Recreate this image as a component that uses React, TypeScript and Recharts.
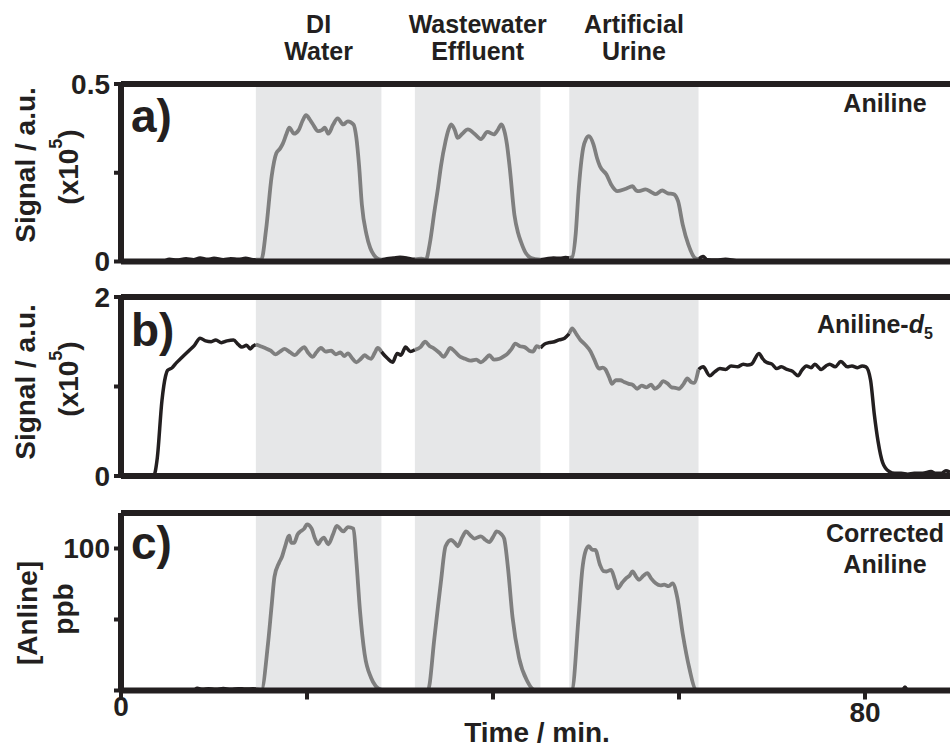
import { ComposedChart, Line, XAxis, YAxis, ReferenceArea, ReferenceLine } from 'recharts';

// sampling windows (min) and what was injected during each one
const windows = [
  [14.5, 28.0],
  [31.6, 45.1],
  [48.2, 62.1],
];
const sampleTitles = [
  ['DI', 'Water'],
  ['Wastewater', 'Effluent'],
  ['Artificial', 'Urine'],
];

const xTicks = [0, 20, 40, 60, 80];
const xLabels = ['0', '', '', '', '80'];

// a) Aniline signal (x10^5 a.u.)
const aTime = [
  0, 4.5, 5.2, 6, 7, 7.8, 8.5, 9.3, 10, 11, 11.8, 12.6, 13.4, 14.2, 14.5,
  15.1, 15.6, 16.2, 16.7, 17.1, 17.4, 17.8, 18.1, 18.6, 19.1, 19.5, 19.9, 20.3, 20.6, 21.2,
  21.6, 21.9, 22.3, 22.8, 23.3, 23.9, 24.4, 25.0, 25.3, 25.6, 25.9, 26.4, 26.8, 27.2, 27.6,
  28.0, 28.6, 29.3, 30, 30.7, 31.2, 31.6, 32.3, 32.8, 33.2, 33.7, 34.1, 34.4, 34.9, 35.2,
  35.5, 35.9, 36.2, 36.7, 37.3, 38.0, 38.7, 39.4, 40.1, 40.5, 40.9, 41.2, 41.5, 41.8, 42.3,
  42.7, 43.0, 43.5, 44.1, 45.1, 45.8, 46.5, 47.2, 47.8, 48.2, 48.5, 48.9, 49.2, 49.7, 50.0,
  50.3, 50.8, 51.2, 51.5, 52.2, 52.7, 53.4, 54.3, 55.0, 55.4, 55.7, 56.4, 57.0, 57.5, 58.2,
  58.8, 59.4, 59.9, 60.4, 61.0, 61.7, 62.1, 62.6, 63.0, 64, 65, 66, 67, 89.14,
];
const aSignal = [
  0, 0, 0.006, 0.004, 0.008, 0.005, 0.01, 0.006, 0.009, 0.005, 0.008, 0.006, 0.009, 0.005, 0.005,
  0.006, 0.09, 0.24, 0.305, 0.318, 0.332, 0.36, 0.377, 0.36, 0.37, 0.395, 0.412, 0.4, 0.388, 0.367,
  0.37, 0.377, 0.36, 0.385, 0.403, 0.386, 0.395, 0.386, 0.35, 0.27, 0.16, 0.076, 0.038, 0.018, 0.008,
  0.005, 0.008, 0.01, 0.012, 0.01, 0.007, 0.006, 0.008, 0.006, 0.05, 0.141, 0.21, 0.268, 0.339, 0.37,
  0.386, 0.37, 0.348, 0.36, 0.372, 0.36, 0.345, 0.365, 0.358, 0.37, 0.386, 0.37, 0.33, 0.264, 0.132,
  0.08, 0.056, 0.025, 0.01, 0.005, 0.008, 0.01, 0.009, 0.011, 0.01, 0.012, 0.08, 0.198, 0.32, 0.345,
  0.353, 0.33, 0.29, 0.268, 0.245, 0.217, 0.198, 0.205, 0.212, 0.2, 0.198, 0.203, 0.196, 0.19, 0.2,
  0.192, 0.19, 0.17, 0.104, 0.048, 0.01, 0.006, 0.014, 0.005, 0.004, 0.006, 0.003, 0, 0,
];
const aYTicks = [0, 0.25, 0.5];
const aYLabels = ['0', '', '0.5'];

// b) Aniline-d5 signal (x10^5 a.u.)
const bTime = [
  0, 3.5, 3.9, 4.4, 4.8, 5.0, 5.5, 6.0, 6.4, 6.9, 7.3, 7.9, 8.5, 9.1, 9.7,
  10.2, 10.8, 11.4, 12.1, 12.6, 13.0, 13.5, 13.9, 14.2, 14.5, 15.0, 15.5, 16.1, 16.6, 17.1,
  17.6, 18.2, 18.7, 19.2, 19.7, 20.1, 20.6, 21.0, 21.5, 22.0, 22.6, 23.1, 23.6, 24.0, 24.4,
  24.9, 25.3, 25.8, 26.2, 26.6, 26.9, 27.3, 27.6, 28.0, 28.4, 28.7, 29.2, 29.7, 30.1, 30.6,
  31.1, 31.6, 32.2, 32.7, 33.2, 33.6, 34.2, 34.7, 35.0, 35.4, 35.9, 36.5, 37.0, 37.6, 38.2,
  38.7, 39.2, 39.6, 40.1, 40.7, 41.2, 41.6, 42.0, 42.4, 42.9, 43.4, 43.9, 44.3, 44.7, 45.1,
  45.5, 46.0, 46.6, 47.1, 47.7, 48.2, 48.5, 49.0, 49.4, 49.9, 50.5, 50.9, 51.4, 51.8, 52.1,
  52.5, 52.8, 53.2, 53.7, 54.1, 54.6, 55.0, 55.5, 56.0, 56.5, 57.0, 57.4, 57.9, 58.3, 58.8,
  59.2, 59.6, 60.0, 60.5, 60.9, 61.3, 61.6, 62.1, 62.6, 63.3, 63.8, 64.4, 65.0, 65.6, 66.3,
  66.9, 67.4, 67.8, 68.6, 69.0, 69.4, 70.0, 70.5, 71.0, 71.6, 72.2, 72.8, 73.2, 73.7, 74.2,
  74.6, 75.3, 75.8, 76.2, 76.8, 77.4, 78.1, 78.6, 79.2, 79.7, 80.1, 80.6, 81.0, 81.4, 81.9,
  82.6, 83.2, 83.9, 84.6, 85.3, 86.2, 87.1, 87.6, 88.2, 88.7, 89.14,
];
const bSignal = [
  0, 0, 0.2, 0.84, 1.12, 1.18, 1.21, 1.27, 1.31, 1.36, 1.4, 1.46, 1.54, 1.51, 1.5,
  1.52, 1.49, 1.51, 1.52, 1.47, 1.44, 1.46, 1.42, 1.45, 1.47, 1.45, 1.43, 1.4, 1.36, 1.39,
  1.42, 1.38, 1.35, 1.4, 1.44, 1.38, 1.33, 1.38, 1.43, 1.39, 1.4, 1.36, 1.38, 1.34, 1.37,
  1.31, 1.27, 1.31, 1.35, 1.32, 1.31, 1.38, 1.43, 1.39, 1.34, 1.31, 1.27, 1.37, 1.35, 1.44,
  1.39, 1.41, 1.44, 1.5, 1.45, 1.43, 1.38, 1.33, 1.37, 1.43, 1.39, 1.33, 1.31, 1.29, 1.3,
  1.27, 1.31, 1.35, 1.3, 1.31, 1.34, 1.37, 1.42, 1.48, 1.45, 1.44, 1.4, 1.39, 1.45, 1.43,
  1.47, 1.49, 1.5, 1.52, 1.54, 1.59, 1.65, 1.58, 1.52, 1.47, 1.39, 1.3, 1.2, 1.21, 1.19,
  1.1, 1.03, 1.07, 1.07, 1.05, 1.03, 1.02, 0.975, 1.01, 0.99, 1.02, 0.975, 1.01, 1.06, 1.03,
  0.99, 0.985, 0.975, 1.03, 1.09, 1.05, 1.04, 1.19, 1.22, 1.12, 1.16, 1.2, 1.19, 1.23, 1.22,
  1.25, 1.24, 1.25, 1.37, 1.31, 1.27, 1.25, 1.2, 1.22, 1.19, 1.17, 1.12, 1.18, 1.23, 1.21,
  1.25, 1.19, 1.23, 1.25, 1.22, 1.28, 1.22, 1.23, 1.21, 1.23, 1.22, 1.07, 0.69, 0.39, 0.15,
  0.05, 0.03, 0.03, 0.02, 0.03, 0.03, 0.05, 0.03, 0.03, 0.06, 0.04,
];
const bYTicks = [0, 1, 2];
const bYLabels = ['0', '', '2'];

// c) corrected aniline (ppb)
const cTime = [
  0, 7.8, 8.2, 8.8, 9.4, 10.2, 11.0, 11.8, 12.6, 13.4, 14.2, 14.5, 15.1, 15.8, 16.2,
  16.5, 17.0, 17.3, 17.6, 18.1, 18.3, 18.6, 19.0, 19.3, 19.7, 20.0, 20.5, 20.8, 21.2, 21.5,
  21.8, 22.3, 22.8, 23.2, 23.9, 24.4, 25.0, 25.3, 25.7, 26.2, 26.9, 27.4, 28.0, 28.5, 31.6,
  33.0, 33.7, 34.1, 34.4, 34.9, 35.5, 35.9, 36.2, 36.7, 37.1, 37.6, 38.0, 38.7, 39.2, 39.6,
  40.0, 40.4, 40.9, 41.2, 41.6, 42.1, 42.8, 43.7, 44.4, 45.1, 48.2, 48.5, 49.2, 49.6, 49.9,
  50.3, 50.7, 51.0, 51.5, 51.9, 52.2, 52.7, 53.1, 53.4, 53.9, 54.3, 54.7, 55.0, 55.4, 55.7,
  56.2, 56.6, 57.0, 57.5, 58.0, 58.4, 58.9, 59.3, 59.8, 60.4, 61.1, 61.8, 62.1, 84.0, 84.3,
  84.6, 89.14,
];
const cConc = [
  0, 0, 1.5, 0.8, 1.2, 0.8, 1.4, 0.9, 1.3, 1.0, 1.2, 1.0, 0.5, 32.6, 60,
  80, 90, 94, 100.5, 109, 104, 104, 110, 112, 114, 117, 114, 108, 103, 106,
  107.6, 103, 110, 116, 112, 115, 114, 92, 56, 25.5, 8.8, 3, 0.5, 0, 0,
  0, 37, 60, 76.6, 101.6, 106, 104, 101.6, 108, 112, 109, 107, 108.6, 106, 104.5,
  108, 112, 110, 107, 87, 51.6, 23, 6.4, 0.5, 0, 0, 0.5, 51.6, 85, 97,
  101.6, 99, 99, 88.6, 84, 83.8, 85, 78, 72, 76, 79, 81, 83.8, 80, 78,
  81, 82.6, 79, 75.5, 74, 74.5, 73.5, 75.5, 66, 40, 16, 0.5, 0, 0, 2.5,
  0, 0,
];
const cYTicks = [0, 50, 100];
const cYLabels = ['', '', '100'];

const INK = '#231f20';
const GREY = '#7f7f7f';
const SHADE = '#e6e7e8';
const FONT = '"Liberation Sans", Arial, Helvetica, sans-serif';

const X_MAX = 89.14;
const PLOT_LEFT = 121;
const PX_PER_MIN = (950 - PLOT_LEFT) / X_MAX;
const TOP_PAD = 20;

function buildRows(times: number[], values: number[]) {
  return times.map((t, i) => {
    const v = values[i];
    const inside = windows.some(([a, b]) => t >= a - 1e-9 && t <= b + 1e-9);
    const edge = windows.some(([a, b]) => Math.abs(t - a) < 1e-6 || Math.abs(t - b) < 1e-6);
    return { t, black: !inside || edge ? v : null, grey: inside ? v : null };
  });
}

function YTick(props: any) {
  const { x, y, payload, ticks, labels } = props;
  const idx = ticks.indexOf(payload.value);
  const label = idx >= 0 ? labels[idx] : '';
  if (!label) return null;
  return (
    <text x={x} y={y} textAnchor="end" dominantBaseline="central" fontFamily={FONT} fontWeight="bold" fontSize={28} fill={INK}>
      {label}
    </text>
  );
}

function XTick(props: any) {
  const { x, y, payload } = props;
  const idx = xTicks.indexOf(payload.value);
  const label = idx >= 0 ? xLabels[idx] : '';
  if (!label) return null;
  return (
    <text x={x} y={y + (payload.value === 0 ? 14 : 20)} textAnchor="middle" fontFamily={FONT} fontWeight="bold" fontSize={28} fill={INK}>
      {label}
    </text>
  );
}

type PanelProps = {
  top: number;
  plotHeight: number;
  bottomPad: number;
  times: number[];
  values: number[];
  yMax: number;
  yTicks: number[];
  yLabels: string[];
  showX: boolean;
};

function Panel({ top, plotHeight, bottomPad, times, values, yMax, yTicks, yLabels, showX }: PanelProps) {
  const rows = buildRows(times, values);
  return (
    <div style={{ position: 'absolute', left: 0, top: top - TOP_PAD }}>
      <ComposedChart width={950} height={TOP_PAD + plotHeight + bottomPad} data={rows} margin={{ top: TOP_PAD, right: 0, bottom: 0, left: PLOT_LEFT - 60 }}>
        {windows.map(([a, b], i) => (
          <ReferenceArea key={i} x1={a} x2={b} fill={SHADE} fillOpacity={1} stroke="none" ifOverflow="extendDomain" />
        ))}
        <Line type="monotone" dataKey="black" stroke={INK} strokeWidth={3.5} dot={false} isAnimationActive={false} connectNulls={false} />
        <Line type="monotone" dataKey="grey" stroke={GREY} strokeWidth={3.8} dot={false} isAnimationActive={false} connectNulls={false} />
        <ReferenceLine y={yMax} stroke={INK} strokeWidth={6} />
        <XAxis
          type="number"
          dataKey="t"
          domain={[0, X_MAX]}
          ticks={xTicks}
          height={bottomPad}
          axisLine={{ stroke: INK, strokeWidth: 6 }}
          tickLine={{ stroke: INK, strokeWidth: 4 }}
          tickSize={9}
          tick={showX ? <XTick /> : false}
          allowDataOverflow
        />
        <YAxis
          type="number"
          domain={[0, yMax]}
          ticks={yTicks}
          width={60}
          axisLine={{ stroke: INK, strokeWidth: 6 }}
          tickLine={{ stroke: INK, strokeWidth: 4 }}
          tickSize={7}
          tickMargin={4}
          tick={<YTick ticks={yTicks} labels={yLabels} />}
          allowDataOverflow
        />
      </ComposedChart>
    </div>
  );
}

const txt = { fontFamily: FONT, fontWeight: 'bold' as const, fill: INK };
const tx = (t: number) => PLOT_LEFT + t * PX_PER_MIN;

function Annotations() {
  return (
    <svg width={950} height={749} style={{ position: 'absolute', left: 0, top: 0, pointerEvents: 'none' }}>
      {sampleTitles.map(([l1, l2], i) => {
        const cx = tx((windows[i][0] + windows[i][1]) / 2);
        return (
          <g key={i} {...txt} fontSize={25} textAnchor="middle">
            <text x={cx} y={33}>{l1}</text>
            <text x={cx} y={60}>{l2}</text>
          </g>
        );
      })}

      <g {...txt} fontSize={46}>
        <text x={131} y={132}>a)</text>
        <text x={131} y={346}>b)</text>
        <text x={131} y={559}>c)</text>
      </g>

      <g {...txt} fontSize={28} textAnchor="middle">
        <text transform="translate(35,165) rotate(-90)">Signal / a.u.</text>
        <text transform="translate(78,167) rotate(-90)">
          (x10<tspan dy={-16} fontSize={18}>5</tspan><tspan dy={16}>)</tspan>
        </text>
        <text transform="translate(35,382) rotate(-90)">Signal / a.u.</text>
        <text transform="translate(78,379) rotate(-90)">
          (x10<tspan dy={-16} fontSize={18}>5</tspan><tspan dy={16}>)</tspan>
        </text>
        <text transform="translate(37,613) rotate(-90)">[Anline]</text>
        <text transform="translate(73,609) rotate(-90)">ppb</text>
        <text x={537} y={742}>Time / min.</text>
      </g>

      <g {...txt} fontSize={25}>
        <text x={885} y={112} textAnchor="middle">Aniline</text>
        <text x={817} y={333}>
          Aniline-<tspan fontStyle="italic">d</tspan><tspan dy={6} fontSize={16}>5</tspan>
        </text>
        <text x={885} y={542} textAnchor="middle">Corrected</text>
        <text x={885} y={573} textAnchor="middle">Aniline</text>
      </g>
    </svg>
  );
}

export default function App() {
  return (
    <div style={{ position: 'fixed', left: 0, top: 0, width: 950, height: 749, background: '#fff', overflow: 'hidden' }}>
      <Panel top={83.5} plotHeight={177.5} bottomPad={30} times={aTime} values={aSignal} yMax={0.5} yTicks={aYTicks} yLabels={aYLabels} showX={false} />
      <Panel top={296.5} plotHeight={179} bottomPad={30} times={bTime} values={bSignal} yMax={2} yTicks={bYTicks} yLabels={bYLabels} showX={false} />
      <Panel top={512.5} plotHeight={177.5} bottomPad={50} times={cTime} values={cConc} yMax={125} yTicks={cYTicks} yLabels={cYLabels} showX={true} />
      <Annotations />
    </div>
  );
}
